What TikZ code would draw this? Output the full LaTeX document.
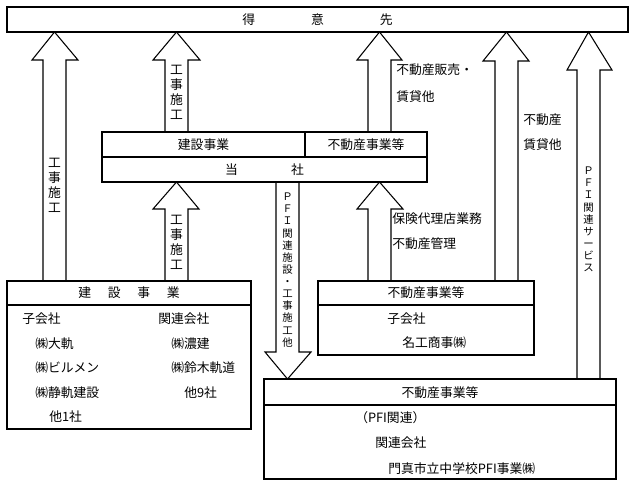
\documentclass[tikz,border=0pt]{standalone}
\usepackage{fontspec}
\setmainfont{Noto Sans CJK JP}
\newcommand\blkarrow[8]{% shaft l, shaft r, head l, head r, tip y, base y, open end y, tip x
  \draw[arrowst] (#1,#7) -- (#1,#6) -- (#3,#6) -- (#8,#5) -- (#4,#6) -- (#2,#6) -- (#2,#7);}
\tikzset{
  boxst/.style={draw=black, line width=0.9pt},
  thickbox/.style={draw=black, line width=1.8pt},
  arrowst/.style={draw=black, line width=0.8pt, line join=miter},
  txt/.style={inner sep=0pt, font=\fontsize{9.6pt}{12pt}\selectfont},
  ltxt/.style={txt, anchor=west},
  vtxt/.style={inner sep=0pt, align=center, font=\fontsize{9.6pt}{11.25pt}\selectfont},
  vsmall/.style={inner sep=0pt, align=center, font=\fontsize{7.8pt}{9.1pt}\selectfont},
}
\begin{document}
\begin{tikzpicture}[x=0.75pt,y=-0.75pt]
\useasboundingbox (0,0) rectangle (636,487);
% boxes
\draw[boxst] (7,7) rectangle (628,32);
\node[txt] (tokuisaki) at (317.5,19.5) {得\hspace{42pt}意\hspace{42pt}先};

\draw[thickbox] (102,132) rectangle (427,182);
\draw[boxst] (102,157) -- (427,157);
\draw[boxst] (305,132) -- (305,157);
\node[txt] (kensetsu) at (203.5,144.5) {建設事業};
\node[txt] (fudosan) at (366,144.5) {不動産事業等};
\node[txt] (tosha) at (264.5,169.5) {当\hspace{40pt}社};

\draw[boxst] (7,281) rectangle (251,429);
\draw[boxst] (7,305) -- (251,305);
\node[txt] (kenhead) at (129,293) {建\hspace{12.5pt}設\hspace{12.5pt}事\hspace{12.5pt}業};
\node[ltxt] (k1) at (22,319) {子会社};
\node[ltxt] (k2) at (158,319) {関連会社};
\node[ltxt] (k3) at (35,344) {㈱大軌};
\node[ltxt] (k4) at (171,344) {㈱濃建};
\node[ltxt] (k5) at (35,368) {㈱ビルメン};
\node[ltxt] (k6) at (171,368) {㈱鈴木軌道};
\node[ltxt] (k7) at (35,393) {㈱静軌建設};
\node[ltxt] (k8) at (184,393) {他9社};
\node[ltxt] (k9) at (49,417) {他1社};

\draw[boxst] (318,281) rectangle (534,355);
\draw[boxst] (318,305) -- (534,305);
\node[txt] (fhead) at (426,293) {不動産事業等};
\node[ltxt] (f1) at (387,319) {子会社};
\node[ltxt] (f2) at (402,343) {名工商事㈱};

\draw[boxst] (264,379) rectangle (616,479);
\draw[boxst] (264,405) -- (616,405);
\node[txt] (bhead) at (440,393) {不動産事業等};
\node[ltxt] (b1) at (355,418) {（PFI関連）};
\node[ltxt] (b2) at (375,443) {関連会社};
\node[ltxt] (b3) at (388,469) {門真市立中学校PFI事業㈱};

% block arrows
\blkarrow{43}{66}{32}{78}{32}{60}{281}{54.5}
\blkarrow{165}{188}{153}{200}{32}{60}{132}{176.5}
\blkarrow{368}{391}{357}{402}{32}{60}{132}{379.5}
\blkarrow{495}{518}{483}{529}{32}{61}{281}{506.5}
\blkarrow{577}{600}{567}{612}{32}{70}{379}{588.5}
\blkarrow{165}{188}{153}{199}{182}{209}{281}{176.5}
\blkarrow{368}{391}{357}{403}{182}{209}{281}{379.5}
\blkarrow{276}{299}{265}{311}{379}{352}{182}{287.5}

% arrow labels
\node[vtxt] (a1) at (54.5,185.5) {工\\事\\施\\工};
\node[vtxt] (a2) at (176.5,92.5) {工\\事\\施\\工};
\node[vtxt] (a6) at (176.5,242) {工\\事\\施\\工};
\node[ltxt] (a3a) at (396,70) {不動産販売・};
\node[ltxt] (a3b) at (396,97) {賃貸他};
\node[ltxt] (a4a) at (523,120) {不動産};
\node[ltxt] (a4b) at (523,145) {賃貸他};
\node[ltxt] (a7a) at (392,219) {保険代理店業務};
\node[ltxt] (a7b) at (392,244) {不動産管理};
\node[vsmall] (a5) at (588.5,219.5) {Ｐ\\Ｆ\\Ｉ\\関\\連\\サ\\ー\\ビ\\ス};
\node[vsmall] (a8) at (287.5,270) {Ｐ\\Ｆ\\Ｉ\\関\\連\\施\\設\\・\\工\\事\\施\\工\\他};
\end{tikzpicture}
\end{document}
